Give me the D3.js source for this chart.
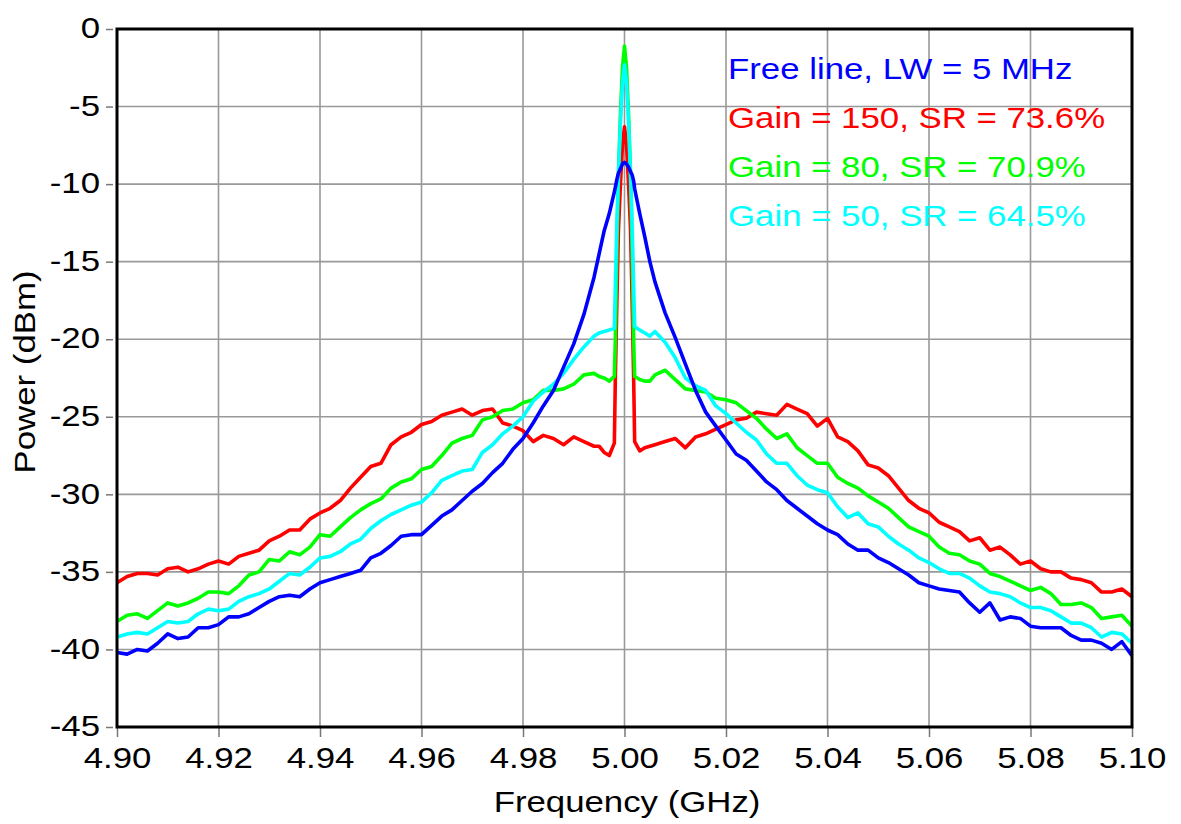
<!DOCTYPE html>
<html>
<head>
<meta charset="utf-8">
<script src="https://cdn.jsdelivr.net/npm/d3@7"></script>
<style>
  body { margin: 0; background: #fff; }
  svg text { font-family: "Liberation Sans", Arial, sans-serif; }
</style>
</head>
<body>
<svg id="chart" width="1181" height="824"></svg>
<script>
// Frequency grid (GHz), finer around the carrier
var freq = [
  4.900, 4.902, 4.904, 4.906, 4.908, 4.910, 4.912, 4.914, 4.916, 4.918,
  4.920, 4.922, 4.924, 4.926, 4.928, 4.930, 4.932, 4.934, 4.936, 4.938,
  4.940, 4.942, 4.944, 4.946, 4.948, 4.950, 4.952, 4.954, 4.956, 4.958,
  4.960, 4.962, 4.964, 4.966, 4.968, 4.970, 4.972, 4.974, 4.976, 4.978,
  4.980, 4.982, 4.984, 4.986, 4.988, 4.990, 4.992, 4.994,
  4.995, 4.996, 4.997, 4.998,
  4.9982, 4.9985, 4.9988, 4.9992, 4.9996, 5.0000, 5.0004, 5.0008, 5.0012, 5.0015, 5.0018,
  5.002, 5.003, 5.004, 5.005,
  5.006, 5.008, 5.010, 5.012, 5.014, 5.016, 5.018, 5.020, 5.022, 5.024,
  5.026, 5.028, 5.030, 5.032, 5.034, 5.036, 5.038, 5.040, 5.042, 5.044,
  5.046, 5.048, 5.050, 5.052, 5.054, 5.056, 5.058, 5.060, 5.062, 5.064,
  5.066, 5.068, 5.070, 5.072, 5.074, 5.076, 5.078, 5.080, 5.082, 5.084,
  5.086, 5.088, 5.090, 5.092, 5.094, 5.096, 5.098, 5.100
];

// Power (dBm) for each trace
var freeLine = [
  -40.2, -40.3, -40.0, -40.1, -39.6, -39.0, -39.3, -39.2, -38.6, -38.6,
  -38.4, -37.9, -37.9, -37.7, -37.3, -36.9, -36.6, -36.5, -36.6, -36.1,
  -35.7, -35.5, -35.3, -35.1, -34.9, -34.1, -33.8, -33.3, -32.7, -32.6,
  -32.6, -32.0, -31.4, -31.0, -30.4, -29.8, -29.3, -28.6, -28.0, -27.1,
  -26.4, -25.4, -24.3, -23.3, -21.8, -20.3, -18.4, -16.0,
  -14.5, -13.0, -11.9, -10.5,
  -10.2, -9.7, -9.3, -9.0, -8.7, -8.6, -8.7, -8.9, -9.2, -9.4, -9.8,
  -10.3, -11.9, -13.4, -15.0,
  -16.3, -18.3, -19.9, -21.6, -23.3, -24.7, -25.6, -26.5, -27.4, -27.8,
  -28.5, -29.2, -29.7, -30.4, -30.9, -31.4, -31.9, -32.3, -32.6, -33.2,
  -33.6, -33.6, -34.1, -34.4, -34.8, -35.2, -35.7, -35.9, -36.1, -36.2,
  -36.3, -37.0, -37.6, -37.0, -38.1, -37.9, -38.0, -38.5, -38.6, -38.6,
  -38.6, -39.1, -39.4, -39.4, -39.6, -40.0, -39.5, -40.4
];
var gain150 = [
  -35.7, -35.3, -35.1, -35.1, -35.2, -34.8, -34.7, -35.0, -34.8, -34.5,
  -34.3, -34.5, -34.0, -33.8, -33.6, -33.0, -32.7, -32.3, -32.3, -31.6,
  -31.2, -30.9, -30.4, -29.6, -28.9, -28.2, -28.0, -26.8, -26.3, -26.0,
  -25.5, -25.3, -24.9, -24.7, -24.5, -24.9, -24.6, -24.5, -25.4, -25.6,
  -25.9, -26.6, -26.2, -26.4, -26.8, -26.3, -26.6, -26.9,
  -26.9, -27.3, -27.5, -26.7,
  -22.4, -17.5, -13.0, -10.0, -7.5, -6.3, -7.5, -10.0, -13.0, -17.5, -22.4,
  -26.6, -27.2, -27.0, -26.9,
  -26.8, -26.6, -26.4, -27.0, -26.3, -26.1, -25.8, -25.5, -25.2, -25.1,
  -24.7, -24.8, -24.9, -24.2, -24.5, -24.8, -25.6, -25.1, -26.3, -26.6,
  -27.2, -28.1, -28.3, -28.8, -29.6, -30.4, -30.9, -31.2, -31.8, -32.1,
  -32.4, -33.0, -32.8, -33.6, -33.4, -33.9, -34.5, -34.3, -34.8, -35.0,
  -35.0, -35.4, -35.5, -35.7, -36.3, -36.3, -36.1, -36.6
];
var gain80 = [
  -38.2, -37.8, -37.7, -38.0, -37.5, -37.0, -37.2, -37.0, -36.7, -36.3,
  -36.3, -36.4, -35.9, -35.2, -35.0, -34.2, -34.3, -33.7, -33.9, -33.4,
  -32.6, -32.7, -32.1, -31.5, -31.0, -30.6, -30.3, -29.6, -29.2, -29.0,
  -28.4, -28.2, -27.5, -26.7, -26.4, -26.2, -25.2, -25.0, -24.6, -24.5,
  -24.1, -23.9, -23.3, -23.3, -23.2, -22.9, -22.3, -22.2,
  -22.4, -22.5, -22.7, -22.4,
  -20.0, -14.0, -9.5, -5.5, -2.5, -1.1, -2.5, -5.5, -9.5, -14.0, -20.0,
  -22.4, -22.6, -22.7, -22.7,
  -22.3, -22.0, -22.6, -23.2, -23.3, -23.4, -23.8, -23.9, -24.1, -24.6,
  -25.1, -25.8, -26.4, -26.1, -27.0, -27.5, -28.0, -28.0, -28.9, -29.3,
  -29.6, -30.1, -30.5, -30.9, -31.5, -32.1, -32.4, -32.7, -33.4, -33.8,
  -33.9, -34.3, -34.5, -35.1, -35.3, -35.6, -35.9, -36.2, -36.0, -36.4,
  -37.1, -37.1, -37.0, -37.3, -38.0, -37.9, -37.8, -38.5
];
var gain50 = [
  -39.2, -39.0, -38.9, -39.0, -38.6, -38.2, -38.3, -38.2, -37.7, -37.4,
  -37.5, -37.4, -36.9, -36.6, -36.4, -36.1, -35.6, -35.1, -35.2, -34.7,
  -34.1, -34.0, -33.7, -33.2, -32.9, -32.2, -31.7, -31.3, -31.0, -30.7,
  -30.5, -29.9, -29.1, -28.8, -28.5, -28.4, -27.3, -26.8, -26.1, -25.6,
  -25.0, -24.0, -23.4, -22.9, -22.2, -21.3, -20.5, -19.8,
  -19.6, -19.5, -19.4, -19.3,
  -16.5, -12.5, -9.5, -6.0, -3.5, -2.3, -3.5, -6.0, -9.5, -12.5, -16.5,
  -19.2, -19.4, -19.6, -19.8,
  -19.5, -20.2, -21.2, -22.5, -23.0, -23.3, -24.3, -24.8, -25.4, -26.0,
  -26.5, -27.4, -28.0, -28.0, -28.8, -29.4, -29.7, -29.9, -30.8, -31.5,
  -31.2, -31.9, -32.1, -32.7, -33.2, -33.6, -34.1, -34.4, -34.8, -35.1,
  -35.1, -35.4, -35.9, -36.3, -36.4, -36.6, -37.0, -37.3, -37.3, -37.5,
  -37.9, -38.3, -38.3, -38.6, -39.2, -38.9, -39.0, -39.6
];

var seriesNames = ["Free line, LW = 5 MHz", "Gain = 150, SR = 73.6%", "Gain = 80, SR = 70.9%", "Gain = 50, SR = 64.5%"];
var seriesColors = ["#0000ff", "#ff0000", "#00ff00", "#00ffff"];
var xTicks = [4.90, 4.92, 4.94, 4.96, 4.98, 5.00, 5.02, 5.04, 5.06, 5.08, 5.10];
var yTicks = [0, -5, -10, -15, -20, -25, -30, -35, -40, -45];

var series = [freeLine, gain150, gain80, gain50].map(function(vals, i) {
  return {
    name: seriesNames[i],
    color: seriesColors[i],
    points: freq.map(function(f, j) { return { f: f, p: vals[j] }; })
  };
});
// red at the bottom, cyan covers the carrier spike, blue on top
var drawOrder = [1, 2, 3, 0];

var width = 1181, height = 824;
var margin = { left: 117, top: 29, right: 49, bottom: 97 };
var plotW = width - margin.left - margin.right;
var plotH = height - margin.top - margin.bottom;
var stretch = "scale(1.2,1)";

var svg = d3.select("#chart");
svg.append("rect").attr("width", width).attr("height", height).attr("fill", "#fff");

var x = d3.scaleLinear().domain([4.90, 5.10]).range([0, plotW]);
var y = d3.scaleLinear().domain([-45, 0]).range([plotH, 0]);

var g = svg.append("g").attr("transform", "translate(" + margin.left + "," + margin.top + ")");

// Grid
g.append("g").selectAll("line.vgrid")
  .data(xTicks).enter().append("line")
  .attr("x1", function(d) { return x(d); }).attr("x2", function(d) { return x(d); })
  .attr("y1", 0).attr("y2", plotH)
  .attr("stroke", "#999").attr("stroke-width", 1.6);
g.append("g").selectAll("line.hgrid")
  .data(yTicks).enter().append("line")
  .attr("x1", 0).attr("x2", plotW)
  .attr("y1", function(d) { return y(d); }).attr("y2", function(d) { return y(d); })
  .attr("stroke", "#999").attr("stroke-width", 1.6);

// Axes
var xAxis = g.append("g")
  .attr("transform", "translate(0," + plotH + ")")
  .call(d3.axisBottom(x).tickValues(xTicks).tickFormat(d3.format(".2f")).tickSize(10));
xAxis.select(".domain").remove();
xAxis.selectAll("line").attr("stroke", "#777").attr("stroke-width", 1.5);
xAxis.selectAll("text")
  .attr("y", 0).attr("dy", 0)
  .attr("transform", "translate(0,41) " + stretch)
  .attr("fill", "#000").style("font-size", "29px");

var yAxis = g.append("g")
  .call(d3.axisLeft(y).tickValues(yTicks).tickFormat(function(d) { return String(d); }).tickSize(11));
yAxis.select(".domain").remove();
yAxis.selectAll("line").attr("x1", -4).attr("x2", -11).attr("stroke", "#777").attr("stroke-width", 1.5);
yAxis.selectAll("text")
  .attr("x", 0).attr("dy", "0.3em")
  .attr("transform", "translate(-17,0) " + stretch)
  .attr("fill", "#000").style("font-size", "29px");

// Traces
var line = d3.line()
  .x(function(d) { return x(d.f); })
  .y(function(d) { return y(d.p); });

g.append("g").selectAll("path.trace")
  .data(drawOrder.map(function(i) { return series[i]; }))
  .enter().append("path")
  .attr("class", "trace")
  .attr("d", function(d) { return line(d.points); })
  .attr("fill", "none")
  .attr("stroke", function(d) { return d.color; })
  .attr("stroke-width", 3.6)
  .attr("stroke-linejoin", "round");

// Frame
g.append("rect")
  .attr("width", plotW).attr("height", plotH)
  .attr("fill", "none").attr("stroke", "#000").attr("stroke-width", 3);

// Legend (text only)
g.append("g").selectAll("text.legend")
  .data(series).enter().append("text")
  .attr("transform", function(d, i) { return "translate(611," + (50 + i * 49) + ") " + stretch; })
  .attr("fill", function(d) { return d.color; })
  .style("font-size", "29px")
  .text(function(d) { return d.name; });

// Axis titles
svg.append("text")
  .attr("transform", "translate(627,812) " + stretch)
  .attr("text-anchor", "middle")
  .style("font-size", "29px")
  .text("Frequency (GHz)");
svg.append("text")
  .attr("transform", "translate(35,372) rotate(-90) " + stretch)
  .attr("text-anchor", "middle")
  .style("font-size", "29px")
  .text("Power (dBm)");
</script>
</body>
</html>
